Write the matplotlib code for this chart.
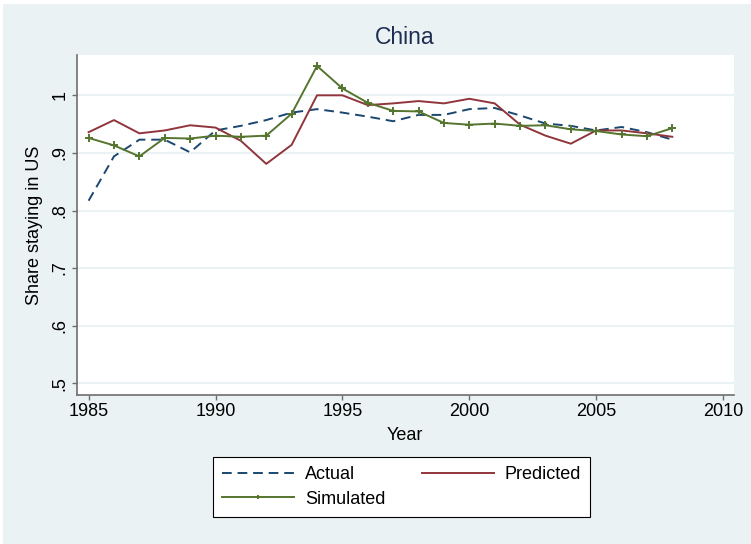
import matplotlib
matplotlib.use("Agg")
import matplotlib.pyplot as plt
from matplotlib.patches import Rectangle

# Yearly share of Chinese graduates staying in the US
years = list(range(1985, 2009))
actual = [0.817, 0.894, 0.923, 0.923, 0.901, 0.939, 0.947, 0.957, 0.970, 0.976,
          0.970, 0.963, 0.955, 0.966, 0.966, 0.976, 0.978, 0.965, 0.951, 0.947,
          0.939, 0.945, 0.936, 0.923]
predicted = [0.936, 0.957, 0.934, 0.939, 0.948, 0.944, 0.921, 0.881, 0.914, 1.000,
             1.000, 0.983, 0.986, 0.990, 0.986, 0.994, 0.986, 0.949, 0.930, 0.916,
             0.939, 0.939, 0.934, 0.928]
simulated = [0.926, 0.913, 0.894, 0.926, 0.925, 0.930, 0.928, 0.930, 0.968, 1.051,
             1.012, 0.987, 0.973, 0.972, 0.952, 0.949, 0.951, 0.947, 0.948, 0.941,
             0.938, 0.932, 0.929, 0.943]

x_ticks = [1985, 1990, 1995, 2000, 2005, 2010]
y_ticks = [0.5, 0.6, 0.7, 0.8, 0.9, 1.0]
y_tick_labels = [".5", ".6", ".7", ".8", ".9", "1"]

BG = "#EAF2F3"
NAVY = "#1A476F"
MAROON = "#90353B"
GREEN = "#55752F"
AXIS = "#6E6E6E"

plt.rcParams["font.family"] = ["Liberation Sans", "DejaVu Sans"]

W, H = 751, 544
fig = plt.figure(figsize=(W / 100, H / 100), dpi=100, facecolor=BG)
# thin white strips along the top and left edge
fig.patches.append(Rectangle((0, 1 - 4 / H), 1, 4 / H, transform=fig.transFigure,
                             facecolor="white", edgecolor="none", zorder=0))
fig.patches.append(Rectangle((0, 0), 3 / W, 1, transform=fig.transFigure,
                             facecolor="white", edgecolor="none", zorder=0))

left, right, top, bottom = 76.5, 734, 55, 395
ax = fig.add_axes([left / W, 1 - bottom / H, (right - left) / W, (bottom - top) / H])
ax.set_facecolor("white")

h_act, = ax.plot(years, actual, color=NAVY, lw=1.4, dashes=(5, 3), label="Actual", zorder=3)
h_pred, = ax.plot(years, predicted, color=MAROON, lw=1.4, label="Predicted", zorder=3)
h_sim, = ax.plot(years, simulated, color=GREEN, lw=1.4, marker="+", markersize=6,
                 markeredgewidth=1.4, label="Simulated", zorder=3)

ax.set_xlim(1984.523, 2010.43)
ax.set_ylim(0.4797, 1.070)
ax.set_xticks(x_ticks)
ax.set_yticks(y_ticks)
ax.set_yticklabels(y_tick_labels, rotation=90, va="center")
ax.grid(axis="y", color=BG, lw=1.5, zorder=1)
ax.set_axisbelow(True)

for s in ["top", "right"]:
    ax.spines[s].set_visible(False)
for s in ["left", "bottom"]:
    ax.spines[s].set_color(AXIS)
    ax.spines[s].set_linewidth(1.2)
ax.tick_params(axis="both", direction="out", length=3.6, width=1.0, color=AXIS,
               labelsize=13, labelcolor="black", pad=2)

fig.text(405 / W, 1 - 38 / H, "China", ha="center", va="center", fontsize=16.5,
         color="#1E2D53")
fig.text(405 / W, 1 - 436 / H, "Year", ha="center", va="center", fontsize=13)
fig.text(35 / W, 1 - 225 / H, "Share staying in US", ha="center", va="center",
         rotation=90, fontsize=13)

# column-major fill: Actual / Simulated in the first column, Predicted in the second
leg = fig.legend([h_act, h_sim, h_pred], ["Actual", "Simulated", "Predicted"],
                 loc="center", bbox_to_anchor=(401.5 / W, 1 - 487 / H), ncol=2,
                 fontsize=13, frameon=True, fancybox=False, framealpha=1,
                 edgecolor="black", handlelength=4.0, columnspacing=2.0,
                 handletextpad=0.6, borderpad=0.5, labelspacing=0.4,
                 markerscale=0.6)
leg.get_frame().set_linewidth(0.8)

fig.savefig("out.png", dpi=100, facecolor=BG)
